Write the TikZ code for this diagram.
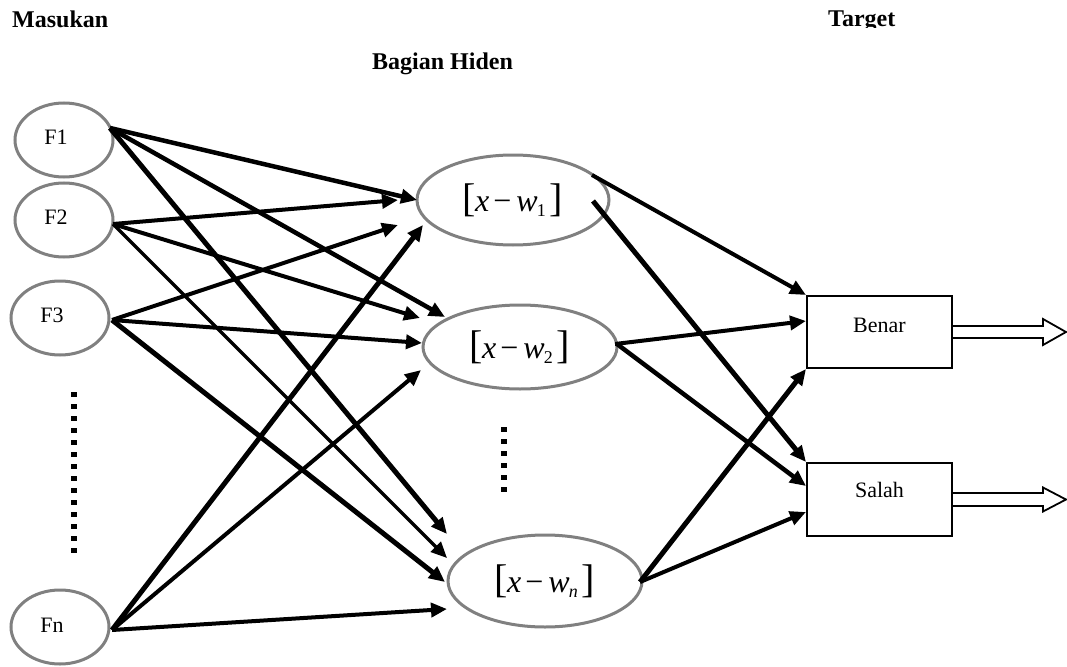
\documentclass[tikz,border=0pt]{standalone}
\usepackage{fontspec}
\setmainfont{Liberation Serif}
\usetikzlibrary{arrows.meta,calc,shapes.geometric}
\definecolor{ringgray}{RGB}{128,128,128}
\newcommand\hidf[1]{{\fontsize{40}{40}\selectfont[}\kern-1pt\textit{x}\kern4pt−\kern5pt\textit{w}\kern-1pt\raisebox{-5pt}{\fontsize{18}{18}\selectfont #1}\kern4pt{\fontsize{40}{40}\selectfont]}}
\tikzset{
  inp/.style={ellipse, draw=ringgray, line width=3pt, inner sep=0pt, minimum width=98pt, minimum height=74pt},
  hid/.style={ellipse, draw=ringgray, line width=3pt, inner sep=0pt, font=\fontsize{32}{34}\selectfont},
  outbox/.style={rectangle, draw=black, line width=2pt, minimum width=145pt, minimum height=72pt, inner sep=0pt},
  title/.style={font=\bfseries\fontsize{24}{26}\selectfont, inner sep=0pt, anchor=base west},
  arr/.style={draw=black, line width=#1, -{Triangle[length=16pt,width=14pt]}},
  arr/.default=4pt,
  dbl/.style={draw=black, line width=1.8pt, line join=miter},
  dotline/.style={draw=black, line width=6pt, dash pattern=on 5pt off 7pt},
  flab/.style={inner sep=0pt}
}
\begin{document}
\begin{tikzpicture}[x=1pt,y=-1pt,font=\fontsize{22}{24}\selectfont]
\useasboundingbox (0,0) rectangle (1067,666);

% titles
\node[title] (masukan) at (12,28) {Masukan};
\node[title] (hiden) at (372,70) {Bagian Hiden};
\begin{scope}
  \clip (800,0) rectangle (1000,28);
  \node[title] (target) at (828,27) {Target};
\end{scope}

% input ellipses
\node[inp, label={[flab,xshift=-8pt,yshift=3pt]center:F1}] (F1) at (64,140) {};
\node[inp, label={[flab,xshift=-8pt,yshift=3pt]center:F2}] (F2) at (64,220) {};
\node[inp, label={[flab,xshift=-8pt,yshift=3pt]center:F3}] (F3) at (60,318) {};
\node[inp, label={[flab,xshift=-8pt,yshift=2pt]center:Fn}] (Fn) at (60,627) {};

% hidden ellipses
\node[hid, minimum width=192pt, minimum height=90pt] (h1) at (513,200) {\hidf{1}};
\node[hid, minimum width=194pt, minimum height=84pt] (h2) at (520,347) {\hidf{2}};
\node[hid, minimum width=194pt, minimum height=92pt] (hn) at (545,581) {\hidf{\textit{n}}};

% output boxes
\node[outbox] (B) at (879.5,332) {\raisebox{0pt}[0pt][0pt]{Benar}};
\node[outbox, minimum height=73pt] (S) at (879.5,499.5) {\raisebox{2.5pt}[0pt][0pt]{Salah}};

% dotted ellipsis marks
\draw[dotline] (73.5,392) -- (73.5,553);
\draw[dotline] (503.5,427) -- (503.5,492);

% input -> hidden
\draw[arr=4.5pt] ($(F1)+(46,-12)$) -- ($(h1)+(-96,0)$);
\draw[arr=4.5pt] ($(F1)+(46,-12)$) -- ($(h2)+(-75,-30)$);
\draw[arr=5pt]   ($(F1)+(46,-12)$) -- ($(hn)+(-98,-47)$);
\draw[arr=4pt]   ($(F2)+(49,4)$) -- ($(h1)+(-115,0)$);
\draw[arr=4pt]   ($(F2)+(49,4)$) -- ($(h2)+(-100,-29)$);
\draw[arr=3.2pt] ($(F2)+(49,4)$) -- ($(hn)+(-98,-23)$);
\draw[arr=4pt]   ($(F3)+(52,2)$) -- ($(h1)+(-115,25)$);
\draw[arr=4pt]   ($(F3)+(52,2)$) -- ($(h2)+(-98,-4)$);
\draw[arr=5pt]   ($(F3)+(52,2)$) -- ($(hn)+(-100,1)$);
\draw[arr=5pt]   ($(Fn)+(52,3)$) -- ($(h1)+(-90,25)$);
\draw[arr=4pt]   ($(Fn)+(52,3)$) -- ($(h2)+(-99,23)$);
\draw[arr=4pt]   ($(Fn)+(52,3)$) -- ($(hn)+(-98,28)$);

% hidden -> output
\draw[arr=4pt]   ($(h1)+(79,-25)$) -- (B.north west);
\draw[arr=5pt]   ($(h1)+(80,1)$) -- (S.north west);
\draw[arr=4pt]   ($(h2)+(95,-3)$) -- ($(B.west)+(0,-11)$);
\draw[arr=4.5pt] ($(h2)+(97,-3)$) -- ($(S.west)+(0,-13.5)$);
\draw[arr=5pt]   ($(hn)+(95,1)$) -- (B.south west);
\draw[arr=4pt]   ($(hn)+(95,1)$) -- ($(S.west)+(0,12.5)$);

% output double arrows
\draw[dbl] ($(B.east)+(0,-6)$) -- ++(90,0) -- ++(0,-7) -- ++(23,13) -- ++(-23,13) -- ++(0,-7) -- ++(-90,0);
\draw[dbl] ($(S.east)+(0,-6.5)$) -- ++(90,0) -- ++(0,-5.5) -- ++(23,12) -- ++(-23,12) -- ++(0,-5.5) -- ++(-90,0);
\end{tikzpicture}
\end{document}
